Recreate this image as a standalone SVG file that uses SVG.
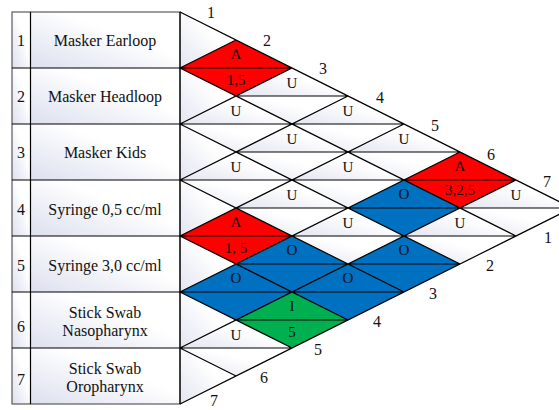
<svg xmlns="http://www.w3.org/2000/svg" width="559" height="410" viewBox="0 0 559 410">
  <defs>
    <linearGradient id="cellShade" x1="0" y1="1" x2="1" y2="0">
      <stop offset="0" stop-color="#dcdfee"/>
      <stop offset="0.6" stop-color="#ffffff"/>
    </linearGradient>
    <linearGradient id="triShade" x1="0" y1="1" x2="1" y2="0">
      <stop offset="0" stop-color="#e3e5f1"/>
      <stop offset="0.6" stop-color="#ffffff"/>
    </linearGradient>
  </defs>
  <style>
    .cell { fill: url(#cellShade); }
    .frame { fill: none; stroke: #5a5a5a; stroke-width: 1.2; }
    .rule { fill: none; stroke: #000; stroke-width: 1.2; }
    .txt { font-family: "Liberation Serif", "Times New Roman", serif; font-size: 16px; fill: #111; text-anchor: middle; }
    .lbl { font-size: 15px; }
    .blank { fill: url(#triShade); }
    .red { fill: #ff0000; }
    .blue { fill: #0070c0; }
    .green { fill: #00b050; }
  </style>

  <rect width="559" height="410" fill="#ffffff"/>

  <!-- item list -->
  <g id="item-1">
    <rect class="cell" x="12" y="12" width="18.5" height="56"/>
    <rect class="cell" x="30.5" y="12" width="149.5" height="56"/>
    <text class="txt" x="21" y="46">1</text>
    <text class="txt" x="105" y="46">Masker Earloop</text>
  </g>
  <g id="item-2">
    <rect class="cell" x="12" y="68" width="18.5" height="56"/>
    <rect class="cell" x="30.5" y="68" width="149.5" height="56"/>
    <text class="txt" x="21" y="102">2</text>
    <text class="txt" x="105" y="102">Masker Headloop</text>
  </g>
  <g id="item-3">
    <rect class="cell" x="12" y="124" width="18.5" height="56"/>
    <rect class="cell" x="30.5" y="124" width="149.5" height="56"/>
    <text class="txt" x="21" y="158">3</text>
    <text class="txt" x="105" y="158">Masker Kids</text>
  </g>
  <g id="item-4">
    <rect class="cell" x="12" y="180" width="18.5" height="56"/>
    <rect class="cell" x="30.5" y="180" width="149.5" height="56"/>
    <text class="txt" x="21" y="215">4</text>
    <text class="txt" x="105" y="215">Syringe 0,5 cc/ml</text>
  </g>
  <g id="item-5">
    <rect class="cell" x="12" y="236" width="18.5" height="56"/>
    <rect class="cell" x="30.5" y="236" width="149.5" height="56"/>
    <text class="txt" x="21" y="271">5</text>
    <text class="txt" x="105" y="271">Syringe 3,0 cc/ml</text>
  </g>
  <g id="item-6">
    <rect class="cell" x="12" y="292" width="18.5" height="56"/>
    <rect class="cell" x="30.5" y="292" width="149.5" height="56"/>
    <text class="txt" x="21" y="332">6</text>
    <text class="txt" x="105" y="317.5">Stick Swab</text>
    <text class="txt" x="105" y="336">Nasopharynx</text>
  </g>
  <g id="item-7">
    <rect class="cell" x="12" y="348" width="18.5" height="56"/>
    <rect class="cell" x="30.5" y="348" width="149.5" height="56"/>
    <text class="txt" x="21" y="385">7</text>
    <text class="txt" x="105" y="373.5">Stick Swab</text>
    <text class="txt" x="105" y="392">Oropharynx</text>
  </g>

  <!-- self cells along the left edge of the roof -->
  <g id="self-cells">
    <polygon class="blank" points="180,12 236,40 180,68"/>
    <polygon class="blank" points="180,68 236,96 180,124"/>
    <polygon class="blank" points="180,124 236,152 180,180"/>
    <polygon class="blank" points="180,180 236,208 180,236"/>
    <polygon class="blank" points="180,236 236,264 180,292"/>
    <polygon class="blank" points="180,292 236,320 180,348"/>
    <polygon class="blank" points="180,348 236,376 180,404"/>
  </g>

  <!-- pairwise relation cells -->
  <g id="pair-1-2">
    <polygon class="red" points="180,68 236,40 292,68 236,96"/>
    <text class="txt lbl" x="236" y="59">A</text>
    <text class="txt lbl" x="236" y="85">1,5</text>
  </g>
  <g id="pair-1-3">
    <polygon class="blank" points="236,96 292,68 348,96"/>
    <polygon class="blank" points="236,96 348,96 292,124"/>
    <text class="txt lbl" x="292" y="88">U</text>
  </g>
  <g id="pair-1-4">
    <polygon class="blank" points="292,124 348,96 404,124"/>
    <polygon class="blank" points="292,124 404,124 348,152"/>
    <text class="txt lbl" x="348" y="116">U</text>
  </g>
  <g id="pair-1-5">
    <polygon class="blank" points="348,152 404,124 460,152"/>
    <polygon class="blank" points="348,152 460,152 404,180"/>
    <text class="txt lbl" x="404" y="144">U</text>
  </g>
  <g id="pair-1-6">
    <polygon class="red" points="404,180 460,152 516,180 460,208"/>
    <text class="txt lbl" x="460" y="171">A</text>
    <text class="txt lbl" x="460" y="195">3,2,5</text>
  </g>
  <g id="pair-1-7">
    <polygon class="blank" points="460,208 516,180 572,208"/>
    <polygon class="blank" points="460,208 572,208 516,236"/>
    <text class="txt lbl" x="516" y="200">U</text>
  </g>
  <g id="pair-2-3">
    <polygon class="blank" points="180,124 236,96 292,124"/>
    <polygon class="blank" points="180,124 292,124 236,152"/>
    <text class="txt lbl" x="236" y="116">U</text>
  </g>
  <g id="pair-2-4">
    <polygon class="blank" points="236,152 292,124 348,152"/>
    <polygon class="blank" points="236,152 348,152 292,180"/>
    <text class="txt lbl" x="292" y="144">U</text>
  </g>
  <g id="pair-2-5">
    <polygon class="blank" points="292,180 348,152 404,180"/>
    <polygon class="blank" points="292,180 404,180 348,208"/>
    <text class="txt lbl" x="348" y="172">U</text>
  </g>
  <g id="pair-2-6">
    <polygon class="blue" points="348,208 404,180 460,208 404,236"/>
    <text class="txt lbl" x="404" y="199">O</text>
  </g>
  <g id="pair-2-7">
    <polygon class="blank" points="404,236 460,208 516,236"/>
    <polygon class="blank" points="404,236 516,236 460,264"/>
    <text class="txt lbl" x="460" y="228">U</text>
  </g>
  <g id="pair-3-4">
    <polygon class="blank" points="180,180 236,152 292,180"/>
    <polygon class="blank" points="180,180 292,180 236,208"/>
    <text class="txt lbl" x="236" y="172">U</text>
  </g>
  <g id="pair-3-5">
    <polygon class="blank" points="236,208 292,180 348,208"/>
    <polygon class="blank" points="236,208 348,208 292,236"/>
    <text class="txt lbl" x="292" y="200">U</text>
  </g>
  <g id="pair-3-6">
    <polygon class="blank" points="292,236 348,208 404,236"/>
    <polygon class="blank" points="292,236 404,236 348,264"/>
    <text class="txt lbl" x="348" y="228">U</text>
  </g>
  <g id="pair-3-7">
    <polygon class="blue" points="348,264 404,236 460,264 404,292"/>
    <text class="txt lbl" x="404" y="255">O</text>
  </g>
  <g id="pair-4-5">
    <polygon class="red" points="180,236 236,208 292,236 236,264"/>
    <text class="txt lbl" x="236" y="227">A</text>
    <text class="txt lbl" x="236" y="253">1, 5</text>
  </g>
  <g id="pair-4-6">
    <polygon class="blue" points="236,264 292,236 348,264 292,292"/>
    <text class="txt lbl" x="292" y="255">O</text>
  </g>
  <g id="pair-4-7">
    <polygon class="blue" points="292,292 348,264 404,292 348,320"/>
    <text class="txt lbl" x="348" y="283">O</text>
  </g>
  <g id="pair-5-6">
    <polygon class="blue" points="180,292 236,264 292,292 236,320"/>
    <text class="txt lbl" x="236" y="283">O</text>
  </g>
  <g id="pair-5-7">
    <polygon class="green" points="236,320 292,292 348,320 292,348"/>
    <text class="txt lbl" x="292" y="311">I</text>
    <text class="txt lbl" x="292" y="337">5</text>
  </g>
  <g id="pair-6-7">
    <polygon class="blank" points="180,348 236,320 292,348"/>
    <polygon class="blank" points="180,348 292,348 236,376"/>
    <text class="txt lbl" x="236" y="340">U</text>
  </g>

  <!-- table rules and roof grid -->
  <g id="grid">
    <rect class="frame" x="12" y="12" width="168" height="392"/>
    <path class="rule" d="M30.5 12V404 M12 68H180 M12 124H180 M12 180H180 M12 236H180 M12 292H180 M12 348H180 M180 12V404"/>
    <path class="rule" d="M180 12L572 208 M180 68L516 236 M180 124L460 264 M180 180L404 292 M180 236L348 320 M180 292L292 348 M180 348L236 376
      M180 68L236 40 M180 124L292 68 M180 180L348 96 M180 236L404 124 M180 292L460 152 M180 348L516 180 M180 404L572 208
      M180 68H292 M236 96H348 M180 124H404 M236 152H460 M180 180H516 M236 208H572 M180 236H516 M236 264H460 M180 292H404 M236 320H348 M180 348H292"/>
  </g>

  <!-- column numbers along both roof edges -->
  <g id="edge-numbers">
    <text class="txt" x="211" y="18">1</text>
    <text class="txt" x="267" y="46">2</text>
    <text class="txt" x="323" y="74">3</text>
    <text class="txt" x="380" y="103">4</text>
    <text class="txt" x="435" y="131">5</text>
    <text class="txt" x="491" y="159.5">6</text>
    <text class="txt" x="547" y="187">7</text>
    <text class="txt" x="548" y="242.5">1</text>
    <text class="txt" x="490" y="270.5">2</text>
    <text class="txt" x="433" y="298.5">3</text>
    <text class="txt" x="377" y="326.5">4</text>
    <text class="txt" x="318" y="354.5">5</text>
    <text class="txt" x="264" y="383">6</text>
    <text class="txt" x="214" y="406">7</text>
  </g>
</svg>
